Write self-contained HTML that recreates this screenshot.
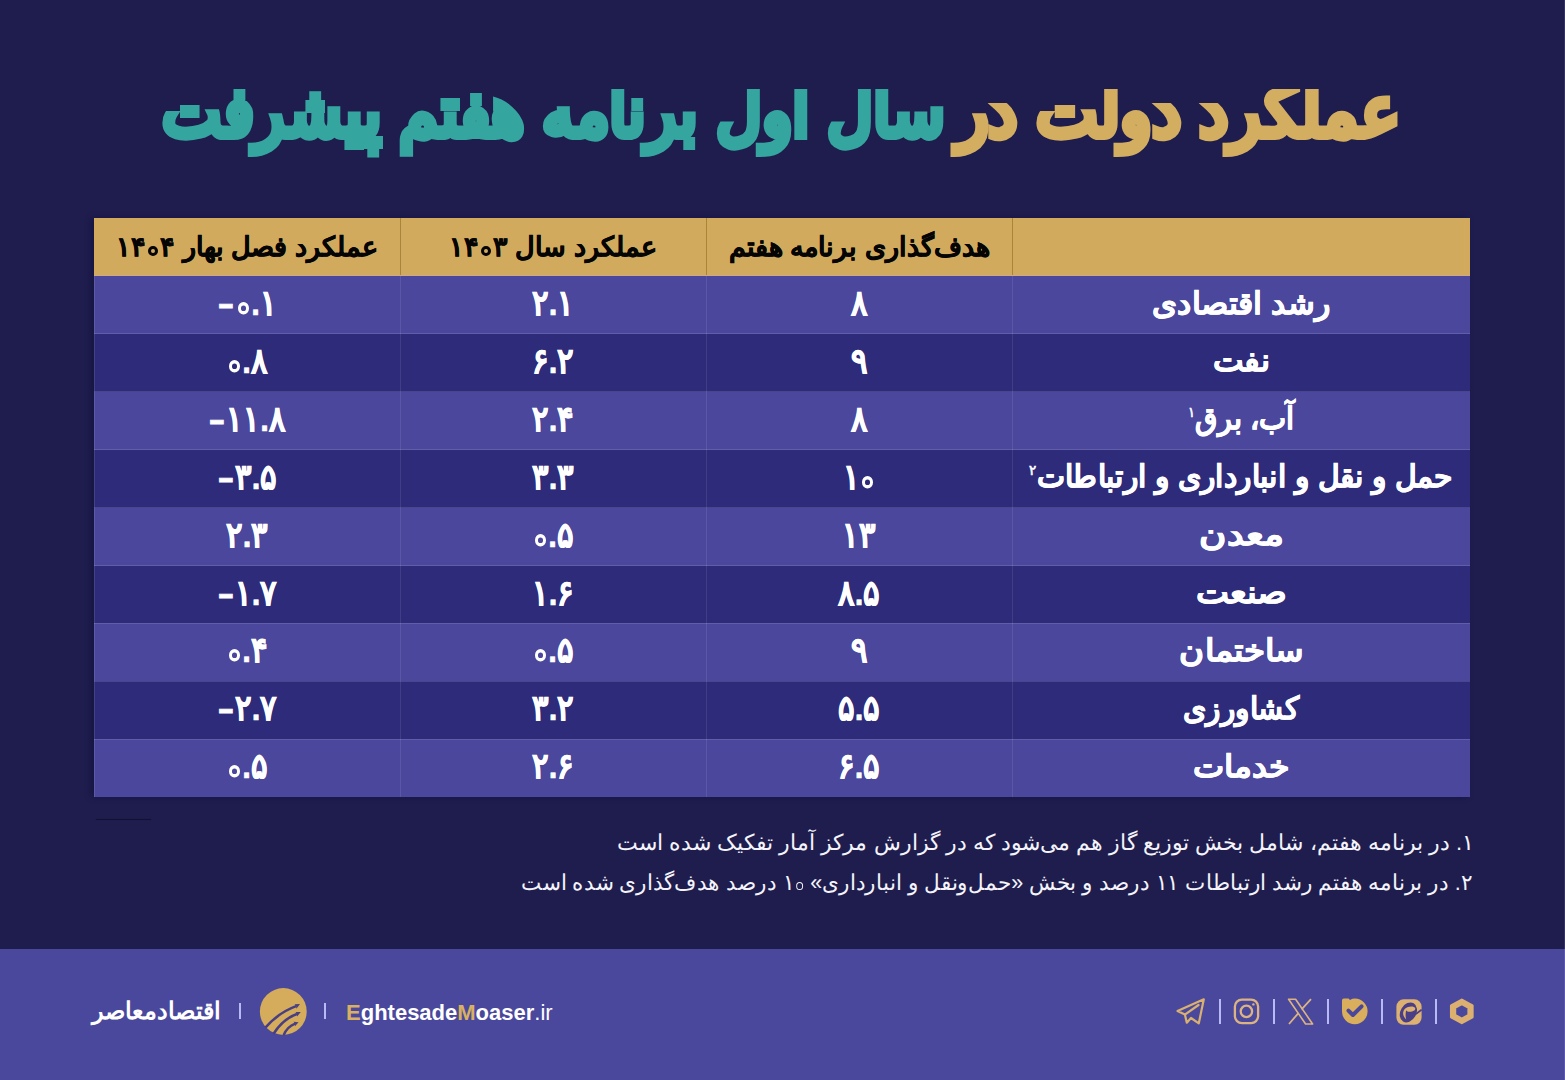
<!DOCTYPE html>
<html lang="fa">
<head>
<meta charset="utf-8">
<title>عملکرد دولت در سال اول برنامه هفتم پیشرفت</title>
<style>
html,body{margin:0;padding:0}
body{width:1565px;height:1080px;overflow:hidden;position:relative;background:#1f1d4e;font-family:"Liberation Sans",sans-serif;color:#fff}
.title{margin:0;position:absolute;left:0;top:0;width:1565px;height:200px;clip-path:inset(89px 0 0 0);font-size:60px;font-weight:bold;line-height:100px;white-space:nowrap;direction:rtl;-webkit-text-stroke:5px currentColor}
.title span{position:absolute;top:66px;display:block;transform-origin:100% 70%}
.title .g{color:#d4ae60;right:165px;transform:scale(1.092,1.16)}
.title .t{color:#35a69f;right:620px;transform:scale(1.047,1.16)}
.tbl{position:absolute;left:94px;top:218px;width:1376px;height:579px;box-shadow:-3px 0 6px rgba(10,8,40,.35)}
.row{position:absolute;left:0;width:1376px;height:58px}
.row.l{background:#4a479c}
.row.d{background:#2e2c7a}
.row.hd{background:#d2aa5e;top:0;height:58px}
.row .c{position:absolute;top:0;height:100%;display:flex;align-items:center;justify-content:center;white-space:nowrap;font-weight:bold;font-size:31px;-webkit-text-stroke:.6px currentColor}
.c1{left:0;width:306px}
.c2{left:306px;width:306px}
.c3{left:612px;width:306px}
.c4{left:918px;width:458px;direction:rtl}
.num{direction:ltr;transform:translateY(-3px) scaleY(1.14)}
.z{display:inline-block;box-sizing:border-box;width:11px;height:10.6px;border:3.4px solid #fff;border-radius:50%;margin:0 2.5px;vertical-align:baseline;font-size:0;color:transparent;overflow:hidden;-webkit-text-stroke:0}
.fn .z{width:7.4px;height:7.6px;border:1.7px solid #f4f4fa;margin:0 1px 0 1.5px}
.hd .z{width:9.8px;height:10px;border:3px solid #050505;margin:0 2px}
.m{display:inline-block;transform:translateY(3px) scaleX(.85)}
.k{display:inline-block;position:relative;top:-2px}
.hd .c{color:#050505;font-size:27px;direction:rtl;-webkit-text-stroke:.5px currentColor}
.vl{position:absolute;top:58px;width:1px;height:521px;background:rgba(255,255,255,.09)}
.vh{position:absolute;top:0;width:1px;height:58px;background:#a8853a}
.hl{position:absolute;left:0;width:1376px;height:1px;background:rgba(255,255,255,.13)}
sup{font-size:14px;line-height:0;vertical-align:12px;font-weight:normal}
.sep{position:absolute;left:96px;top:819px;width:55px;height:1px;background:#121033;box-shadow:0 0 1px #16143c}
.fn{position:absolute;right:91px;transform-origin:100% 50%;white-space:nowrap;direction:rtl;font-size:22px;color:#f4f4fa}
.footer{position:absolute;left:0;top:949px;width:1565px;height:131px;background:#4a489c}
.brand-fa{position:absolute;left:92px;top:997px;font-size:24px;font-weight:bold;direction:rtl;white-space:nowrap}
.bar{position:absolute;width:2px;background:#b9b9f5}
.site{position:absolute;left:346px;top:1000px;font-size:22px;font-weight:bold;white-space:nowrap;letter-spacing:0}
.site .y{color:#d8b062}
.site .ir{font-weight:normal}
.ico{position:absolute;top:997px}
</style>
</head>
<body>

<h1 class="title"><span class="g" id="tg">عملکرد دولت در</span> <span class="t" id="tt">سال اول برنامه هفتم پیشرفت</span></h1>

<div class="tbl">
  <div class="row hd">
    <div class="c c4"></div>
    <div class="c c3">هدف‌گذاری برنامه هفتم</div>
    <div class="c c2"><span>عملکرد سال <bdi dir="ltr">۱۴<span class="z">۰</span>۳</bdi></span></div>
    <div class="c c1"><span>عملکرد فصل بهار <bdi dir="ltr">۱۴<span class="z">۰</span>۴</bdi></span></div>
  </div>
  <div class="row l" style="top:58px"><div class="c c4"><span class="k" style="transform:scaleX(1.03)">رشد اقتصادی</span></div><div class="c c3 num"><span>۸</span></div><div class="c c2 num"><span>۲.۱</span></div><div class="c c1 num"><span><span class="m">−</span><span class="z">۰</span>.۱</span></div></div>
  <div class="row d" style="top:115.9px"><div class="c c4"><span class="k" style="transform:scaleX(1.05)">نفت</span></div><div class="c c3 num"><span>۹</span></div><div class="c c2 num"><span>۶.۲</span></div><div class="c c1 num"><span><span class="z">۰</span>.۸</span></div></div>
  <div class="row l" style="top:173.8px"><div class="c c4"><span class="k" style="transform:scaleX(0.93)">آب، برق<sup>۱</sup></span></div><div class="c c3 num"><span>۸</span></div><div class="c c2 num"><span>۲.۴</span></div><div class="c c1 num"><span><span class="m">−</span>۱۱.۸</span></div></div>
  <div class="row d" style="top:231.7px"><div class="c c4"><span class="k" style="transform:scaleX(0.963)">حمل و نقل و انبارداری و ارتباطات<sup>۲</sup></span></div><div class="c c3 num"><span>۱<span class="z">۰</span></span></div><div class="c c2 num"><span>۳.۳</span></div><div class="c c1 num"><span><span class="m">−</span>۳.۵</span></div></div>
  <div class="row l" style="top:289.6px"><div class="c c4"><span class="k" style="transform:scaleX(1.2)">معدن</span></div><div class="c c3 num"><span>۱۳</span></div><div class="c c2 num"><span><span class="z">۰</span>.۵</span></div><div class="c c1 num"><span>۲.۳</span></div></div>
  <div class="row d" style="top:347.5px"><div class="c c4"><span class="k" style="transform:scaleX(1.13)">صنعت</span></div><div class="c c3 num"><span>۸.۵</span></div><div class="c c2 num"><span>۱.۶</span></div><div class="c c1 num"><span><span class="m">−</span>۱.۷</span></div></div>
  <div class="row l" style="top:405.4px"><div class="c c4"><span class="k" style="transform:scaleX(1.1)">ساختمان</span></div><div class="c c3 num"><span>۹</span></div><div class="c c2 num"><span><span class="z">۰</span>.۵</span></div><div class="c c1 num"><span><span class="z">۰</span>.۴</span></div></div>
  <div class="row d" style="top:463.3px"><div class="c c4"><span class="k" style="transform:scaleX(0.96)">کشاورزی</span></div><div class="c c3 num"><span>۵.۵</span></div><div class="c c2 num"><span>۳.۲</span></div><div class="c c1 num"><span><span class="m">−</span>۲.۷</span></div></div>
  <div class="row l" style="top:521.2px"><div class="c c4"><span class="k" style="transform:scaleX(1.07)">خدمات</span></div><div class="c c3 num"><span>۶.۵</span></div><div class="c c2 num"><span>۲.۶</span></div><div class="c c1 num"><span><span class="z">۰</span>.۵</span></div></div>

  <div class="vh" style="left:306px"></div><div class="vh" style="left:612px"></div><div class="vh" style="left:918px"></div>
  <div class="vl" style="left:306px"></div><div class="vl" style="left:612px"></div><div class="vl" style="left:918px"></div>
  <div style="position:absolute;left:0;top:58px;width:1px;height:521px;background:rgba(255,255,255,.1)"></div>
  <div style="position:absolute;left:0;top:57px;width:1376px;height:1px;background:#cfa985"></div>
  <div class="hl" style="top:115px"></div><div class="hl" style="top:173px"></div><div class="hl" style="top:231px"></div><div class="hl" style="top:289px"></div><div class="hl" style="top:347px"></div><div class="hl" style="top:405px"></div><div class="hl" style="top:463px"></div><div class="hl" style="top:521px"></div>
</div>

<div class="sep"></div>
<div class="fn" style="top:830px">۱. در برنامه هفتم، شامل بخش توزیع گاز هم می‌شود که در گزارش مرکز آمار تفکیک شده است</div>
<div class="fn" style="top:870px;right:93px;transform:scaleX(.978)">۲. در برنامه هفتم رشد ارتباطات ۱۱ درصد و بخش «حمل‌ونقل و انبارداری» <bdi dir="ltr">۱<span class="z">۰</span></bdi> درصد هدف‌گذاری شده است</div>

<div class="footer"></div>
<div class="brand-fa">اقتصادمعاصر</div>
<div class="bar" style="left:239px;top:1003px;height:16px"></div>
<svg style="position:absolute;left:259px;top:988px" width="48" height="48" viewBox="0 0 48 48">
  <circle cx="24.3" cy="23.5" r="23.4" fill="#d4ac5c"/>
  <g fill="none" stroke="#483e83" stroke-width="2.5" stroke-linecap="butt">
    <path d="M6.6 39.4 C14 31 24 23 37.2 18.2"/>
    <path d="M14.4 46 C20 37 28 29.5 38 26"/>
    <path d="M24.6 47.2 C27 41.5 31 37.5 36.2 35.6"/>
  </g>
  <g fill="#483e83">
    <path d="M41 16 L35.6 16.2 L37.2 18.2 L37.4 20.8 Z"/>
    <path d="M41.8 24 L36.5 24 L38 26 L38 28.6 Z"/>
    <path d="M39.6 34.2 L34.5 33.8 L36.1 35.7 L35.9 38.2 Z"/>
  </g>
</svg>
<div class="bar" style="left:324px;top:1003px;height:16px"></div>
<div class="site"><span class="y">E</span>ghtesade<span class="y">M</span>oaser<span class="ir">.ir</span></div>

<!-- social icons -->
<svg class="ico" style="left:1174px" width="34" height="30" viewBox="0 0 34 30">
  <path d="M3.5 14 L29.8 2.3 L24.8 26.3 L17 21 L12.8 25.7 L10.9 17.6 Z M10.9 17.6 L24.5 8" fill="none" stroke="#d9b070" stroke-width="2.2" stroke-linejoin="round" stroke-linecap="round"/>
</svg>
<div class="bar" style="left:1219px;top:999px;height:25px;width:1.6px"></div>
<svg class="ico" style="left:1232px" width="29" height="29" viewBox="0 0 29 29">
  <rect x="2.9" y="2.6" width="23.2" height="23.6" rx="7" fill="none" stroke="#dcb382" stroke-width="2.3"/>
  <circle cx="14.4" cy="14.4" r="5.7" fill="none" stroke="#dcb382" stroke-width="2.3"/>
  <circle cx="21.4" cy="7.4" r="1.2" fill="#dcb382"/>
</svg>
<div class="bar" style="left:1273px;top:999px;height:25px;width:1.6px"></div>
<svg class="ico" style="left:1286px" width="29" height="29" viewBox="0 0 29 29">
  <path d="M2.6 2.2 L9.6 2.2 L26.6 27 L19.6 27 Z" fill="none" stroke="#dcb382" stroke-width="1.6" stroke-linejoin="round"/>
  <path d="M3 27 L12.2 16.3 M15.6 12.4 L25 2.2" fill="none" stroke="#dcb382" stroke-width="1.8"/>
</svg>
<div class="bar" style="left:1327px;top:999px;height:25px;width:1.6px"></div>
<svg class="ico" style="left:1340px" width="30" height="29" viewBox="0 0 30 29">
  <path d="M2 3.4 Q2 1.6 3.8 1.6 L8.6 1.6 L10 3 Q12.3 1.6 15 1.6 A12.8 12.8 0 1 1 2 14.4 Z" fill="#d9ae5c"/>
  <path d="M8.4 13.6 L12.9 18 L21.6 9.4" fill="none" stroke="#4a479c" stroke-width="4" stroke-linecap="round" stroke-linejoin="round"/>
</svg>
<div class="bar" style="left:1381px;top:999px;height:25px;width:1.6px"></div>
<svg class="ico" style="left:1396px;top:998.5px" width="26" height="26" viewBox="0 0 26 26">
  <rect x="0.4" y="0.3" width="25.2" height="25.5" rx="7.2" fill="#dcb172"/>
  <ellipse cx="12.4" cy="13.4" rx="7.9" ry="10.6" transform="rotate(30 12.4 13.4)" fill="#4a3f86"/>
  <path d="M10.2 20.6 C6.4 17 6.2 12.4 9.2 9.6 C11.6 7.4 16.8 6.6 18.8 8.6 C20.4 10.4 17.6 12.8 13.8 12.8 C12 12.8 10.8 12.2 10.2 11.2 C9.4 14 9.4 17.4 10.2 20.6 Z" fill="#dcb172"/>
  <path d="M16.6 17 C19.6 15.2 22.6 13 25.6 10.6" fill="none" stroke="#4a3f86" stroke-width="1.8"/>
</svg>
<div class="bar" style="left:1435px;top:999px;height:25px;width:1.6px"></div>
<svg class="ico" style="left:1448px" width="28" height="29" viewBox="0 0 28 29">
  <path d="M13.80 2.80 L24.45 8.60 L24.45 20.20 L13.80 26.00 L3.15 20.20 L3.15 8.60 Z M13.80 7.00 L20.59 10.70 L20.59 18.10 L13.80 21.80 L7.01 18.10 L7.01 10.70 Z" fill="#dcb070" fill-rule="evenodd" stroke="#dcb070" stroke-width="2.4" stroke-linejoin="round"/>
</svg>

<div style="position:absolute;left:1564px;top:0;width:1px;height:1080px;background:rgba(255,255,255,.1)"></div>
</body>
</html>
